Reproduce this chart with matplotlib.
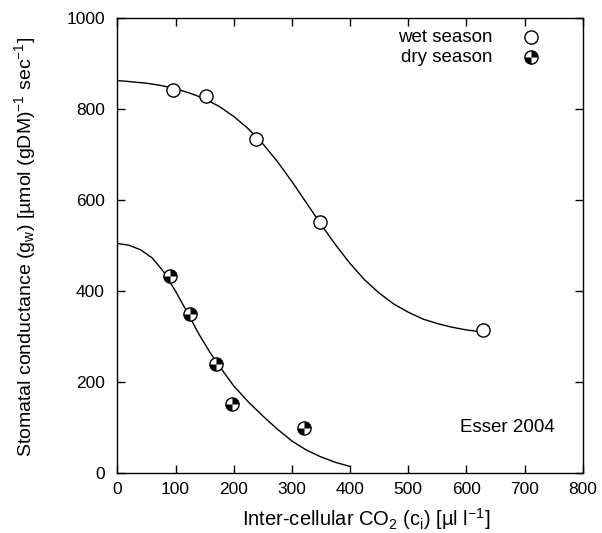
import numpy as np
import matplotlib
matplotlib.use('Agg')
import matplotlib.pyplot as plt
from matplotlib.path import Path

plt.rcParams['font.family'] = ['Liberation Sans', 'DejaVu Sans']
plt.rcParams['mathtext.fontset'] = 'custom'
plt.rcParams['mathtext.rm'] = 'Liberation Sans'
plt.rcParams['mathtext.it'] = 'Liberation Sans:italic'

# measured points
wet_ci = [95, 152, 238, 348, 628]
wet_gw = [842, 828, 734, 552, 314]
dry_ci = [90, 124, 169, 197, 321]
dry_gw = [434, 350, 240, 152, 100]

# fitted curves
wet_fit_x = [0, 25, 50, 75, 100, 125, 150, 175, 200, 225, 250, 275, 300,
             325, 350, 375, 400, 425, 450, 475, 500, 525, 550, 575, 600, 625]
wet_fit_y = [863, 860, 857, 852, 845, 835, 823, 806, 784, 757, 724, 685, 641,
             594, 547, 502, 461, 425, 396, 372, 354, 339, 329, 321, 315, 311]
dry_fit_x = [0, 20, 40, 60, 80, 100, 120, 140, 160, 180, 200, 225, 250, 275,
             300, 325, 350, 375, 400]
dry_fit_y = [505, 501, 491, 473, 442, 400, 354, 306, 264, 227, 192, 157, 126,
             97, 71, 51, 36, 24, 15]

# half-black circle marker (two opposite quadrants)
quad = Path.make_compound_path(Path.wedge(0, 90), Path.wedge(180, 270))

fig = plt.figure(figsize=(6.02, 5.33), dpi=100)
ax = fig.add_axes([0.195, 0.112, 0.773, 0.854])

ax.plot(wet_fit_x, wet_fit_y, color='black', lw=1.0)
ax.plot(dry_fit_x, dry_fit_y, color='black', lw=1.0)

ms = 9.5
ax.plot(wet_ci, wet_gw, 'o', ms=ms, mfc='white', mec='black', mew=1.0)
ax.plot(dry_ci, dry_gw, 'o', ms=ms, mfc='white', mec='black', mew=1.0)
ax.plot(dry_ci, dry_gw, ls='none', marker=quad, ms=ms, mfc='black', mec='none')

# legend drawn by hand (text right aligned, marker to the right)
ax.text(0.807, 0.958, 'wet season', transform=ax.transAxes, ha='right',
        va='center', fontsize=13.5)
ax.text(0.807, 0.914, 'dry season', transform=ax.transAxes, ha='right',
        va='center', fontsize=13.5)
ax.plot([0.888], [0.958], 'o', transform=ax.transAxes, ms=ms, mfc='white',
        mec='black', mew=1.0, clip_on=False)
ax.plot([0.888], [0.914], 'o', transform=ax.transAxes, ms=ms, mfc='white',
        mec='black', mew=1.0, clip_on=False)
ax.plot([0.888], [0.914], ls='none', marker=quad, transform=ax.transAxes,
        ms=ms, mfc='black', mec='none', clip_on=False)

ax.text(0.94, 0.10, 'Esser 2004', transform=ax.transAxes, ha='right',
        va='center', fontsize=13.5)

ax.set_xlim(0, 800)
ax.set_ylim(0, 1000)
ax.set_xticks(np.arange(0, 801, 100))
ax.set_yticks(np.arange(0, 1001, 200))
ax.tick_params(direction='in', top=True, right=True, length=6, width=1.0,
               labelsize=12.5)
ax.tick_params(axis='x', pad=6)
ax.tick_params(axis='y', pad=9)
for s in ax.spines.values():
    s.set_linewidth(1.0)

ax.set_xlabel('Inter-cellular CO$_{\\mathit{2}}$ (c$_\\mathrm{i}$) [\u00b5l l$^{-1}$]',
              fontsize=14.5)
ax.set_ylabel('Stomatal conductance (g$_\\mathrm{w}$) [\u00b5mol (gDM)$^{-1}$ sec$^{-1}$]',
              fontsize=14)
ax.xaxis.set_label_coords(0.534, -0.071)
ax.yaxis.set_label_coords(-0.171, 0.497)

fig.savefig('out.png', dpi=100)
